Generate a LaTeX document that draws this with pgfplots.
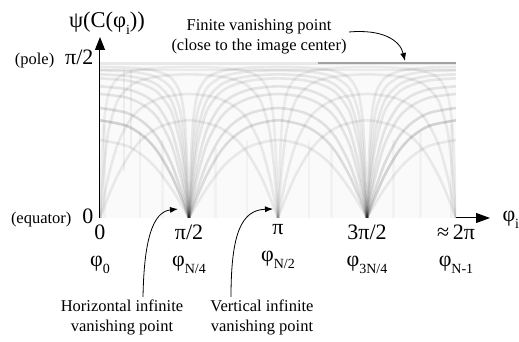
\documentclass[border=0pt]{standalone}
\usepackage{pgfplots}
\pgfplotsset{compat=1.18}
\usepackage{fontspec}
\setmainfont{Liberation Serif}
\usetikzlibrary{arrows.meta}
\newcommand\fs{\fontsize{16.5}{20}\selectfont}
\newcommand\fb{\fontsize{22}{25}\selectfont}
\newcommand\sub[1]{\raisebox{-7pt}{\fontsize{14}{14}\selectfont #1}}
\pgfplotsset{
  arc/.style={smooth, tension=0.5, black, line width=2.6pt, opacity=#1, mark=none},
  streak/.style={black, line width=2.5pt, opacity=#1, mark=none},
}
\begin{document}
\begin{tikzpicture}
\useasboundingbox (0,0) rectangle (519pt,342pt);
\begin{axis}[
  at={(100pt,124pt)}, anchor=south west,
  x=89pt, y=156pt, xmin=0, xmax=4, ymin=0, ymax=1,
  axis lines=left,
  axis line style={line width=1pt},
  x axis line style={-{Triangle[length=14pt,width=10pt]}, shorten >=-34pt},
  y axis line style={-{Triangle[length=13pt,width=10pt]}, shorten >=-25pt},
  xtick={0,1,2,3,4}, ytick={0,1},
  xticklabels={{0\\[2pt]φ\sub{0}},{π/2\\[2pt]φ\sub{N/4}},{π\\[2pt]φ\sub{N/2}},{3π/2\\[2pt]φ\sub{3N/4}},{≈\,2π\\[2pt]φ\sub{N-1}}},
  yticklabels={{{\fs(equator)}\hspace{11pt}0},{\raisebox{9pt}{{\fs(pole)}\hspace{11pt}π/2}}},
  major tick length=0pt,
  xticklabel style={align=center, font=\fb, yshift=-3pt},
  yticklabel style={font=\fb, xshift=-3pt},
  xlabel={φ\sub{i}},
  every axis x label/.style={at={(rel axis cs:1,0)}, anchor=base west, xshift=43pt, yshift=-4pt, font=\fontsize{22}{24}\selectfont},
  ylabel={ψ(C(φ\sub{i}))},
  every axis y label/.style={at={(rel axis cs:0,1)}, anchor=base, xshift=7pt, yshift=34pt, font=\fontsize{22.5}{24}\selectfont},
]
\fill[black!2] (axis cs:0,0) rectangle (axis cs:4,1);
% faint vertical streaks
\addplot[streak=0.04] coordinates {(0.05,0)(0.05,0.6)};
\addplot[streak=0.05] coordinates {(0.27,0.3)(0.27,0.95)};
\addplot[streak=0.05] coordinates {(0.35,0.45)(0.35,0.95)};
\addplot[streak=0.035] coordinates {(0.45,0)(0.45,0.55)};
\addplot[streak=0.03] coordinates {(0.7,0)(0.7,0.5)};
\addplot[streak=0.03] coordinates {(1.3,0)(1.3,0.45)};
\addplot[streak=0.03] coordinates {(1.65,0)(1.65,0.5)};
\addplot[streak=0.03] coordinates {(2.35,0)(2.35,0.5)};
\addplot[streak=0.03] coordinates {(2.6,0)(2.6,0.45)};
\addplot[streak=0.03] coordinates {(3.3,0)(3.3,0.5)};
\addplot[streak=0.03] coordinates {(3.6,0)(3.6,0.55)};
\addplot[streak=0.04] coordinates {(3.95,0)(3.95,0.6)};
% top band (finite vanishing point)
\addplot[black, opacity=0.07, line width=3pt, mark=none] coordinates {(0,0.99)(4,0.99)};
\addplot[black, opacity=0.06, line width=2pt, mark=none] coordinates {(0,0.95)(4,0.95)};
\addplot[black, opacity=0.30, line width=1.5pt, mark=none] coordinates {(2.45,0.995)(4,0.995)};
% ---- fans at pi/2 and 3pi/2: left arcs [0,1]
\addplot[arc=0.07] coordinates {(0,.500)(.3,.463)(.5,.392)(.65,.307)(.8,.191)(.9,.099)(1,0)};
\addplot[arc=0.16] coordinates {(0,.626)(.3,.591)(.5,.519)(.65,.423)(.8,.276)(.9,.147)(1,0)};
\addplot[arc=0.12] coordinates {(0,.705)(.3,.674)(.5,.608)(.65,.514)(.8,.352)(.9,.193)(.95,.099)(1,0)};
\addplot[arc=0.09] coordinates {(0,.795)(.3,.772)(.5,.719)(.65,.639)(.8,.476)(.9,.279)(.95,.146)(1,0)};
\addplot[arc=0.09] coordinates {(0,.844)(.3,.826)(.5,.784)(.65,.716)(.8,.567)(.9,.356)(.95,.194)(.98,.080)(1,0)};
\addplot[arc=0.08] coordinates {(0,.895)(.3,.882)(.5,.852)(.65,.803)(.8,.686)(.9,.480)(.95,.280)(.98,.119)(.99,.060)(1,0)};
\addplot[arc=0.08] coordinates {(0,.921)(.3,.911)(.5,.889)(.65,.851)(.8,.755)(.9,.571)(.95,.357)(.98,.157)(.99,.080)(1,0)};
\addplot[arc=0.07] coordinates {(0,.947)(.3,.941)(.5,.925)(.65,.899)(.8,.832)(.9,.688)(.95,.481)(.98,.229)(.99,.119)(1,0)};
\addplot[arc=0.07] coordinates {(0,.968)(.3,.964)(.5,.955)(.65,.939)(.8,.898)(.9,.803)(.95,.639)(.98,.357)(.99,.194)(1,0)};
% arcs [1,3]
\addplot[arc=0.07] coordinates {(1,0)(1.1,.099)(1.2,.191)(1.35,.307)(1.5,.392)(1.7,.463)(2,.500)(2.3,.463)(2.5,.392)(2.65,.307)(2.8,.191)(2.9,.099)(3,0)};
\addplot[arc=0.12] coordinates {(1,0)(1.1,.147)(1.2,.276)(1.35,.423)(1.5,.519)(1.7,.591)(2,.626)(2.3,.591)(2.5,.519)(2.65,.423)(2.8,.276)(2.9,.147)(3,0)};
\addplot[arc=0.10] coordinates {(1,0)(1.05,.099)(1.1,.193)(1.2,.352)(1.35,.514)(1.5,.608)(1.7,.674)(2,.705)(2.3,.674)(2.5,.608)(2.65,.514)(2.8,.352)(2.9,.193)(2.95,.099)(3,0)};
\addplot[arc=0.09] coordinates {(1,0)(1.05,.146)(1.1,.279)(1.2,.476)(1.35,.639)(1.5,.719)(1.7,.772)(2,.795)(2.3,.772)(2.5,.719)(2.65,.639)(2.8,.476)(2.9,.279)(2.95,.146)(3,0)};
\addplot[arc=0.09] coordinates {(1,0)(1.02,.080)(1.05,.194)(1.1,.356)(1.2,.567)(1.35,.716)(1.5,.784)(1.7,.826)(2,.844)(2.3,.826)(2.5,.784)(2.65,.716)(2.8,.567)(2.9,.356)(2.95,.194)(2.98,.080)(3,0)};
\addplot[arc=0.08] coordinates {(1,0)(1.01,.060)(1.02,.119)(1.05,.280)(1.1,.480)(1.2,.686)(1.35,.803)(1.5,.852)(1.7,.882)(2,.895)(2.3,.882)(2.5,.852)(2.65,.803)(2.8,.686)(2.9,.480)(2.95,.280)(2.98,.119)(2.99,.060)(3,0)};
\addplot[arc=0.08] coordinates {(1,0)(1.01,.080)(1.02,.157)(1.05,.357)(1.1,.571)(1.2,.755)(1.35,.851)(1.5,.889)(1.7,.911)(2,.921)(2.3,.911)(2.5,.889)(2.65,.851)(2.8,.755)(2.9,.571)(2.95,.357)(2.98,.157)(2.99,.080)(3,0)};
\addplot[arc=0.07] coordinates {(1,0)(1.01,.119)(1.02,.229)(1.05,.481)(1.1,.688)(1.2,.832)(1.35,.899)(1.5,.925)(1.7,.941)(2,.947)(2.3,.941)(2.5,.925)(2.65,.899)(2.8,.832)(2.9,.688)(2.95,.481)(2.98,.229)(2.99,.119)(3,0)};
\addplot[arc=0.07] coordinates {(1,0)(1.01,.194)(1.02,.357)(1.05,.639)(1.1,.803)(1.2,.898)(1.35,.939)(1.5,.955)(1.7,.964)(2,.968)(2.3,.964)(2.5,.955)(2.65,.939)(2.8,.898)(2.9,.803)(2.95,.639)(2.98,.357)(2.99,.194)(3,0)};
% arcs [3,4]
\addplot[arc=0.07] coordinates {(3,0)(3.1,.099)(3.2,.191)(3.35,.307)(3.5,.392)(3.7,.463)(4,.500)};
\addplot[arc=0.16] coordinates {(3,0)(3.1,.147)(3.2,.276)(3.35,.423)(3.5,.519)(3.7,.591)(4,.626)};
\addplot[arc=0.12] coordinates {(3,0)(3.05,.099)(3.1,.193)(3.2,.352)(3.35,.514)(3.5,.608)(3.7,.674)(4,.705)};
\addplot[arc=0.09] coordinates {(3,0)(3.05,.146)(3.1,.279)(3.2,.476)(3.35,.639)(3.5,.719)(3.7,.772)(4,.795)};
\addplot[arc=0.09] coordinates {(3,0)(3.02,.080)(3.05,.194)(3.1,.356)(3.2,.567)(3.35,.716)(3.5,.784)(3.7,.826)(4,.844)};
\addplot[arc=0.08] coordinates {(3,0)(3.01,.060)(3.02,.119)(3.05,.280)(3.1,.480)(3.2,.686)(3.35,.803)(3.5,.852)(3.7,.882)(4,.895)};
\addplot[arc=0.08] coordinates {(3,0)(3.01,.080)(3.02,.157)(3.05,.357)(3.1,.571)(3.2,.755)(3.35,.851)(3.5,.889)(3.7,.911)(4,.921)};
\addplot[arc=0.07] coordinates {(3,0)(3.01,.119)(3.02,.229)(3.05,.481)(3.1,.688)(3.2,.832)(3.35,.899)(3.5,.925)(3.7,.941)(4,.947)};
\addplot[arc=0.07] coordinates {(3,0)(3.01,.194)(3.02,.357)(3.05,.639)(3.1,.803)(3.2,.898)(3.35,.939)(3.5,.955)(3.7,.964)(4,.968)};
% ---- fan at pi: arcs [0,2] and [2,4]
\addplot[arc=0.07] coordinates {(0,0)(.1,.147)(.2,.276)(.35,.423)(.5,.519)(.7,.591)(1,.626)(1.3,.591)(1.5,.519)(1.65,.423)(1.8,.276)(1.9,.147)(2,0)};
\addplot[arc=0.07] coordinates {(2,0)(2.1,.147)(2.2,.276)(2.35,.423)(2.5,.519)(2.7,.591)(3,.626)(3.3,.591)(3.5,.519)(3.65,.423)(3.8,.276)(3.9,.147)(4,0)};
\addplot[arc=0.07] coordinates {(0,0)(.05,.146)(.1,.279)(.2,.476)(.35,.639)(.5,.719)(.7,.772)(1,.795)(1.3,.772)(1.5,.719)(1.65,.639)(1.8,.476)(1.9,.279)(1.95,.146)(2,0)};
\addplot[arc=0.07] coordinates {(2,0)(2.05,.146)(2.1,.279)(2.2,.476)(2.35,.639)(2.5,.719)(2.7,.772)(3,.795)(3.3,.772)(3.5,.719)(3.65,.639)(3.8,.476)(3.9,.279)(3.95,.146)(4,0)};
\addplot[arc=0.07] coordinates {(0,0)(.01,.080)(.02,.157)(.05,.357)(.1,.571)(.2,.755)(.35,.851)(.5,.889)(.7,.911)(1,.921)(1.3,.911)(1.5,.889)(1.65,.851)(1.8,.755)(1.9,.571)(1.95,.357)(1.98,.157)(1.99,.080)(2,0)};
\addplot[arc=0.07] coordinates {(2,0)(2.01,.080)(2.02,.157)(2.05,.357)(2.1,.571)(2.2,.755)(2.35,.851)(2.5,.889)(2.7,.911)(3,.921)(3.3,.911)(3.5,.889)(3.65,.851)(3.8,.755)(3.9,.571)(3.95,.357)(3.98,.157)(3.99,.080)(4,0)};
\addplot[arc=0.06] coordinates {(0,0)(.01,.194)(.02,.357)(.05,.639)(.1,.803)(.2,.898)(.35,.939)(.5,.955)(.7,.964)(1,.968)(1.3,.964)(1.5,.955)(1.65,.939)(1.8,.898)(1.9,.803)(1.95,.639)(1.98,.357)(1.99,.194)(2,0)};
\addplot[arc=0.06] coordinates {(2,0)(2.01,.194)(2.02,.357)(2.05,.639)(2.1,.803)(2.2,.898)(2.35,.939)(2.5,.955)(2.7,.964)(3,.968)(3.3,.964)(3.5,.955)(3.65,.939)(3.8,.898)(3.9,.803)(3.95,.639)(3.98,.357)(3.99,.194)(4,0)};
\end{axis}
% annotations
\node[align=center, font=\fs] at (259pt,305pt) {Finite vanishing point\\(close to the image center)};
\draw[line width=0.8pt, -{Latex[length=8pt,width=6pt]}] (349pt,310pt) .. controls (382pt,313pt) and (400pt,302pt) .. (405pt,281pt);
\node[align=center, font=\fs] at (122pt,25pt) {Horizontal infinite\\vanishing point};
\draw[line width=0.8pt, -{Latex[length=8pt,width=6pt]}] (143pt,45pt) .. controls (144pt,100pt) and (152pt,130pt) .. (178pt,133pt);
\node[align=center, font=\fs] at (262pt,25pt) {Vertical infinite\\vanishing point};
\draw[line width=0.8pt, -{Latex[length=8pt,width=6pt]}] (231pt,45pt) .. controls (231pt,110pt) and (242pt,132pt) .. (273pt,133pt);
\end{tikzpicture}
\end{document}
